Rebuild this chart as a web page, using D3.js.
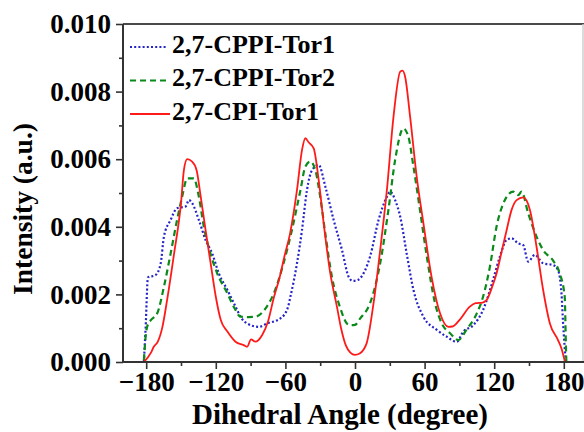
<!DOCTYPE html>
<html>
<head>
<meta charset="utf-8">
<script src="https://cdn.jsdelivr.net/npm/d3@7"></script>
</head>
<body style="margin:0">
<svg id="chart" width="584" height="432"></svg>
<script>
// Dihedral angle distributions (intensity values in units of 1e-3 a.u.)
const xTicks = [-180, -120, -60, 0, 60, 120, 180];
const yTicks = [0, 2, 4, 6, 8, 10];

const cppiTor1Angle = [-182, -180.5, -178.5, -172, -167.5, -164.7, -159, -153.4, -146, -143.2, -140.4, -134.6, -128.8, -123, -117.4, -110, -103, -98, -93, -83, -75.8, -64.3, -58, -55.7, -50, -45.7, -41.4, -37, -31.3, -25.6, -18.4, -11.2, -5.5, -2, 2, 4.5, 13, 20.3, 27.5, 30.3, 34.6, 39, 44.6, 50.4, 59, 70.5, 79, 87.7, 93.4, 102, 110.4, 119, 124.9, 130.7, 135, 140.7, 145, 149.3, 155, 162.2, 170.8, 175, 178, 179.4, 181.7];
const cppiTor1Value = [0, 1.0, 2.5, 2.57, 2.92, 3.71, 4.2, 4.55, 4.6, 4.79, 4.7, 4.2, 3.61, 3.2, 2.62, 2.13, 1.64, 1.3, 1.14, 1.04, 1.14, 1.29, 1.6, 1.93, 2.92, 3.9, 5.09, 5.68, 5.83, 5.19, 4.2, 3.31, 2.52, 2.4, 2.42, 2.48, 3.12, 4.2, 4.89, 5.04, 4.79, 4.3, 3.2, 2.13, 1.34, 0.95, 0.75, 0.6, 0.9, 1.09, 1.54, 2.43, 3.12, 3.61, 3.66, 3.51, 3.46, 2.97, 3.17, 2.92, 2.87, 2.72, 2.03, 1.14, 0];

const cppiTor2Angle = [-182, -180, -178, -176, -170.5, -164.7, -159, -153.4, -149, -144.7, -139, -134.6, -130.3, -124.5, -118.8, -110, -104, -98.7, -92, -86, -76, -70, -61.6, -54.4, -47, -42.8, -38.5, -34.2, -30, -25.6, -19.9, -12.7, -7, -4, 0, 4.5, 13, 21.7, 28.8, 34.6, 41.7, 46, 50.4, 56, 62, 69, 74.8, 82, 89, 96, 105, 110.4, 116.3, 122, 129.2, 136.4, 140.7, 143.6, 149.3, 156.5, 162.2, 170.8, 176.5, 180.8, 181.7, 182.2];
const cppiTor2Value = [0.05, 0.9, 1.15, 1.24, 1.44, 2.23, 3.2, 4.2, 4.89, 5.43, 5.43, 4.89, 4.0, 3.2, 2.62, 2.03, 1.6, 1.34, 1.33, 1.34, 1.64, 2.03, 2.92, 3.9, 5.09, 5.78, 5.93, 5.68, 4.89, 3.8, 2.52, 1.6, 1.14, 1.09, 1.1, 1.29, 1.74, 2.92, 4.5, 5.98, 6.91, 6.67, 5.78, 4.5, 3.1, 1.74, 1.14, 0.85, 0.65, 0.95, 1.44, 1.93, 2.82, 4.0, 4.79, 5.04, 4.94, 5.04, 4.4, 3.71, 3.31, 3.0, 2.62, 1.93, 0.65, 0];

const cpiTor1Angle = [-182, -176, -173.5, -170, -166, -162, -156, -150, -147.5, -144.7, -140.4, -136.6, -133, -128.8, -124.5, -120, -115.7, -110, -103, -96, -93, -89.6, -86, -80, -75, -70, -65, -61, -56, -50, -45.7, -42.8, -40, -35.6, -31.3, -27, -21.3, -15.6, -12, -8, -4, 0, 4, 10, 16, 21.7, 27.5, 33.2, 39, 41, 43.2, 47.5, 53.2, 59, 66, 73.3, 80.5, 84, 90, 99, 104, 110, 113.4, 118, 122, 126, 130.7, 135, 139.3, 145, 150.8, 156.5, 162.2, 168, 175, 178, 181];
const cpiTor1Value = [0, 0.27, 0.45, 0.6, 1.04, 1.83, 3.2, 4.7, 5.68, 6.0, 5.93, 5.68, 4.89, 3.9, 2.93, 1.93, 1.24, 0.9, 0.6, 0.5, 0.45, 0.67, 0.6, 0.8, 1.2, 1.9, 2.5, 3.1, 3.8, 5.09, 6.27, 6.62, 6.5, 6.32, 5.38, 4.1, 2.62, 1.64, 1.0, 0.5, 0.28, 0.21, 0.25, 0.55, 1.74, 3.31, 5.09, 7.26, 8.59, 8.62, 8.44, 7.26, 5.48, 4.1, 2.52, 1.44, 1.04, 1.05, 1.24, 1.64, 1.74, 1.76, 1.83, 2.2, 2.62, 3.2, 3.9, 4.5, 4.79, 4.87, 4.5, 3.41, 2.13, 1.14, 0.65, 0.4, 0];

const seriesNames = ["2,7-CPPI-Tor1", "2,7-CPPI-Tor2", "2,7-CPI-Tor1"];
const seriesColors = ["#2424c8", "#0a8a1a", "#ff1a1a"];
const seriesDash = ["2,2.2", "6,4", null];

const series = [
  { name: seriesNames[0], color: seriesColors[0], dash: seriesDash[0], pts: d3.zip(cppiTor1Angle, cppiTor1Value) },
  { name: seriesNames[1], color: seriesColors[1], dash: seriesDash[1], pts: d3.zip(cppiTor2Angle, cppiTor2Value) },
  { name: seriesNames[2], color: seriesColors[2], dash: seriesDash[2], pts: d3.zip(cpiTor1Angle, cpiTor1Value) }
];

const FONT = '"Liberation Serif"';

// bold serif text helper
function serifText(sel, size) {
  return sel.style("font-family", FONT).style("font-weight", "bold").style("font-size", size + "px").style("fill", "#000");
}

const svg = d3.select("#chart");
const plot = { left: 123, right: 587, top: 24, bottom: 362 };

const x = d3.scaleLinear().domain([-200, 200]).range([plot.left, plot.right]);
const y = d3.scaleLinear().domain([0, 10]).range([plot.bottom, plot.top]);

// frame: dark top edge, light right edge
svg.append("line").attr("x1", plot.left).attr("x2", plot.right).attr("y1", plot.top).attr("y2", plot.top)
  .attr("stroke", "#4a4a4a").attr("stroke-width", 2);
svg.append("line").attr("x1", 583).attr("x2", 583).attr("y1", plot.top).attr("y2", plot.bottom)
  .attr("stroke", "#cfcfcf").attr("stroke-width", 1.5);

// curves
const line = d3.line().x(d => x(d[0])).y(d => y(d[1])).curve(d3.curveMonotoneX);
svg.append("clipPath").attr("id", "clip").append("rect")
  .attr("x", plot.left).attr("y", plot.top).attr("width", plot.right - plot.left).attr("height", plot.bottom - plot.top + 2);
const g = svg.append("g").attr("clip-path", "url(#clip)");
series.forEach(s => {
  g.append("path").datum(s.pts)
    .attr("d", line)
    .attr("fill", "none")
    .attr("stroke", s.color)
    .attr("stroke-width", s.dash ? 2.2 : 1.8)
    .attr("stroke-dasharray", s.dash);
});

// axes
const xAxis = d3.axisBottom(x).tickValues(xTicks).tickSize(7).tickPadding(3).tickFormat(d3.format("d"));
const xMinor = d3.axisBottom(x).tickValues(d3.range(-150, 181, 60)).tickSize(4).tickFormat("");
const yAxis = d3.axisLeft(y).tickValues(yTicks).tickSize(7).tickPadding(5).tickFormat(d => (d / 1000).toFixed(3));
const yMinor = d3.axisLeft(y).tickValues(d3.range(1, 10, 2)).tickSize(4).tickFormat("");

function styleAxis(sel) {
  sel.attr("font-family", null).attr("font-size", null);
  sel.select(".domain").attr("stroke", "#333").attr("stroke-width", 2);
  sel.selectAll(".tick line").attr("stroke", "#333").attr("stroke-width", 1.6);
  serifText(sel.selectAll("text"), 27);
}

svg.append("g").attr("transform", `translate(0,${plot.bottom})`).call(xMinor).call(styleAxis)
  .select(".domain").remove();
svg.append("g").attr("transform", `translate(${plot.left},0)`).call(yMinor).call(styleAxis)
  .select(".domain").remove();
svg.append("g").attr("transform", `translate(0,${plot.bottom})`).call(xAxis).call(styleAxis)
  .select(".domain").attr("d", `M${plot.left},0H${plot.right}`);
svg.append("g").attr("transform", `translate(${plot.left},0)`).call(yAxis).call(styleAxis)
  .select(".domain").attr("d", `M0,${plot.bottom}V${plot.top}`);

// axis titles
serifText(svg.append("text").attr("x", 340).attr("y", 424).attr("text-anchor", "middle"), 29)
  .text("Dihedral Angle (degree)");
serifText(svg.append("text").attr("transform", "translate(32,209) rotate(-90)").attr("text-anchor", "middle"), 27.5)
  .text("Intensity (a.u.)");

// legend
const legend = svg.append("g");
series.forEach((s, i) => {
  const cy = 47 + i * 33.5;
  legend.append("line").attr("x1", 130).attr("x2", s.dash ? 167 : 170).attr("y1", cy).attr("y2", cy)
    .attr("stroke", s.color).attr("stroke-width", s.dash ? 2.2 : 1.8).attr("stroke-dasharray", s.dash);
  serifText(legend.append("text").attr("x", 172).attr("y", cy + 5.5), 26).text(s.name);
});
</script>
</body>
</html>
